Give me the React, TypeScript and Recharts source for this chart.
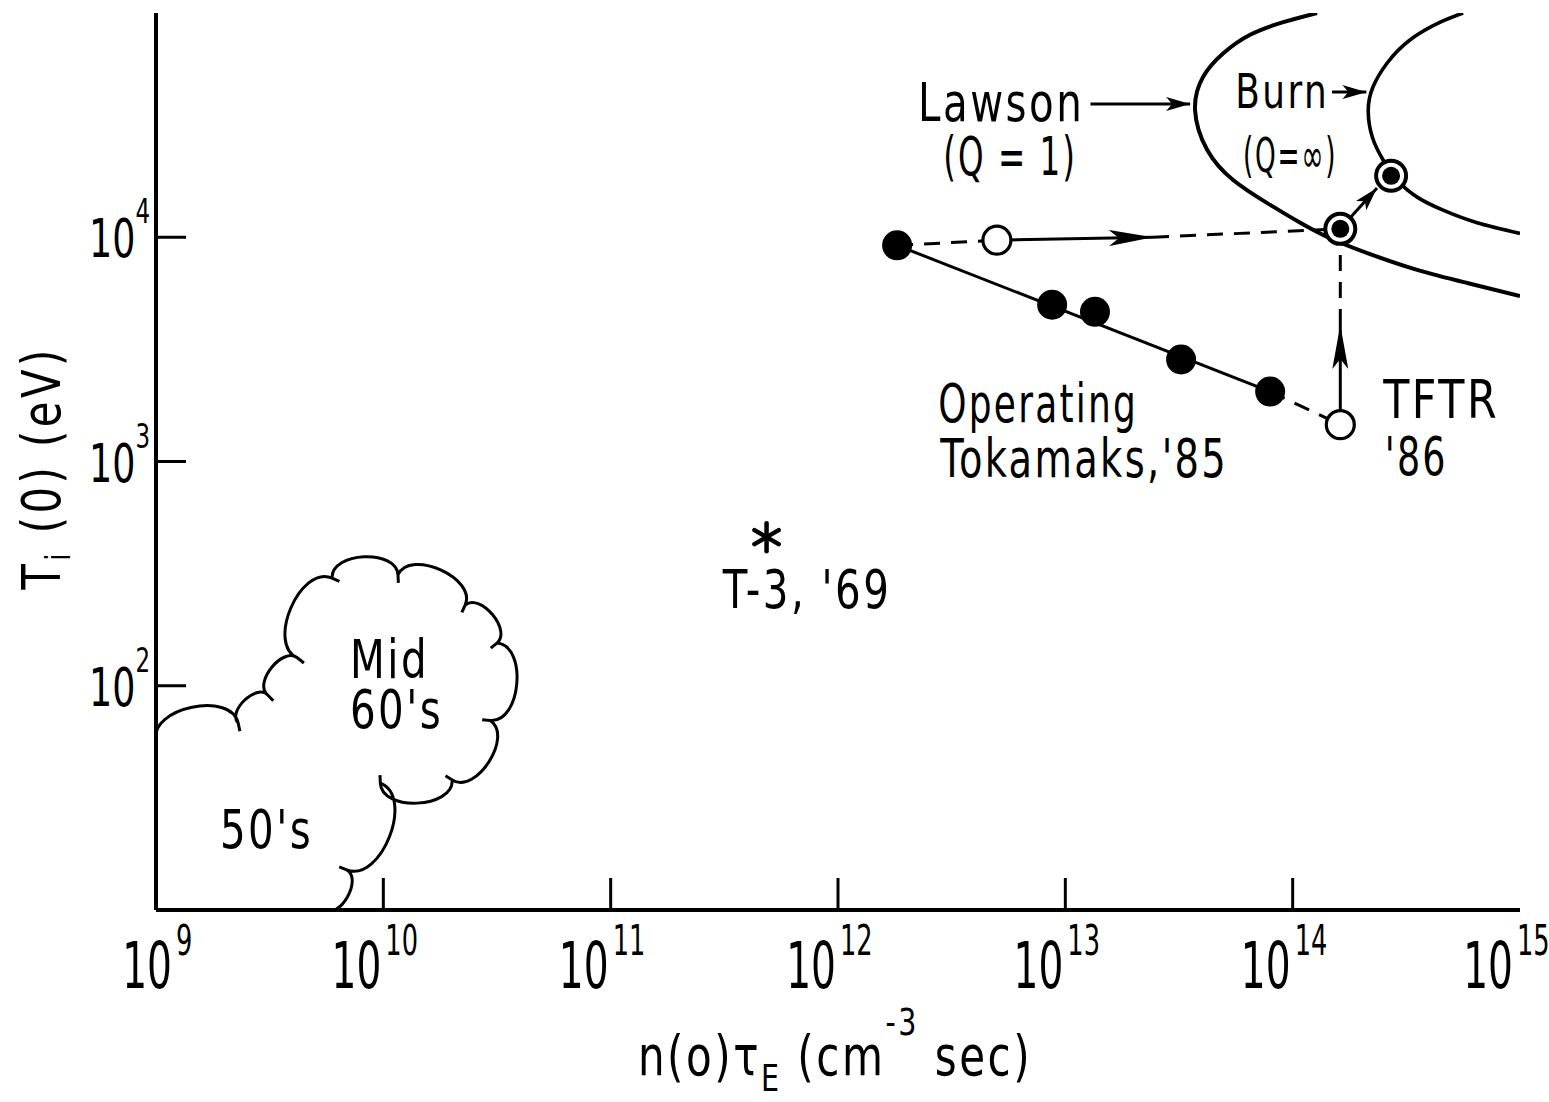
import React from 'react';
import { ComposedChart, Line, Scatter, XAxis, YAxis, ReferenceDot } from 'recharts';

const FONT = '"DejaVu Sans Condensed", "DejaVu Sans", sans-serif';

// decade ticks
const xTicks = [1e9, 1e10, 1e11, 1e12, 1e13, 1e14, 1e15];
const xInnerTicks = [1e10, 1e11, 1e12, 1e13, 1e14];
const yTicks = [1e2, 1e3, 1e4];

// operating tokamaks, 1985 (filled dots)
const tokamaks85 = [
  { x: 1.82e12, y: 9.2e3 },
  { x: 8.75e12, y: 5.0e3 },
  { x: 1.35e13, y: 4.65e3 },
  { x: 3.23e13, y: 2.85e3 },
  { x: 7.96e13, y: 2.05e3 },
];

// open circles: high-temperature shot and TFTR '86
const openPoints = [
  { x: 5.0e12, y: 9.7e3 },
  { x: 1.62e14, y: 1.46e3 },
];

// double circles on the Lawson and burn curves
const targets = [
  { x: 1.62e14, y: 1.09e4 },
  { x: 2.71e14, y: 1.88e4 },
];

const t3Point = [{ x: 4.85e11, y: 460 }];

// arrow tips along the upgrade paths
const hArrowTip = { x: 2.43e13, y: 1.0e4 };
const vArrowTip = { x: 1.62e14, y: 4.06e3 };
const dArrowTip = { x: 2.35e14, y: 1.66e4 };

// Lawson (Q = 1) boundary
const lawson = [
  { x: 1.28e14, y: 1.0e5 },
  { x: 9.1e13, y: 9.1e4 },
  { x: 6.5e13, y: 8.0e4 },
  { x: 4.94e13, y: 6.6e4 },
  { x: 4.04e13, y: 5.2e4 },
  { x: 3.72e13, y: 3.7e4 },
  { x: 4.21e13, y: 2.45e4 },
  { x: 5.47e13, y: 1.8e4 },
  { x: 7.73e13, y: 1.42e4 },
  { x: 1.08e14, y: 1.16e4 },
  { x: 1.46e14, y: 9.9e3 },
  { x: 2.13e14, y: 8.5e3 },
  { x: 3.53e14, y: 7.15e3 },
  { x: 5.86e14, y: 6.25e3 },
  { x: 1.0e15, y: 5.47e3 },
];

// ignition / burn (Q = infinity) boundary
const burn = [
  { x: 5.62e14, y: 1.0e5 },
  { x: 4.46e14, y: 9.1e4 },
  { x: 3.29e14, y: 7.6e4 },
  { x: 2.61e14, y: 6.0e4 },
  { x: 2.26e14, y: 4.7e4 },
  { x: 2.15e14, y: 3.7e4 },
  { x: 2.24e14, y: 2.8e4 },
  { x: 2.5e14, y: 2.21e4 },
  { x: 2.88e14, y: 1.8e4 },
  { x: 3.53e14, y: 1.51e4 },
  { x: 4.59e14, y: 1.32e4 },
  { x: 6.48e14, y: 1.16e4 },
  { x: 1.0e15, y: 1.04e4 },
];

// cusps of the 50's / mid-60's cloud outline
const cloud = [
  { x: 1.0e9, y: 57 },
  { x: 2.3e9, y: 68 },
  { x: 3.1e9, y: 91 },
  { x: 4.2e9, y: 133 },
  { x: 5.95e9, y: 302 },
  { x: 1.16e10, y: 312 },
  { x: 2.29e10, y: 229 },
  { x: 3.16e10, y: 155 },
  { x: 2.95e10, y: 70 },
  { x: 2.01e10, y: 38 },
  { x: 9.7e9, y: 36.8 },
  { x: 6.9e9, y: 15.1 },
  { x: 5.5e9, y: 10 },
];

// pointers from the curve names
const lawsonPointer = [
  { x: 1.29e13, y: 3.93e4 },
  { x: 3.54e13, y: 3.93e4 },
];
const burnPointer = [
  { x: 1.49e14, y: 4.44e4 },
  { x: 2.11e14, y: 4.44e4 },
];

const notes = [
  { x: 5.22e12, y: 3.3e4, text: 'Lawson', anchor: 'middle' },
  { x: 5.72e12, y: 1.9e4, text: '(Q = 1)', anchor: 'middle' },
  { x: 2.76e12, y: 1.5e3, text: 'Operating', anchor: 'start' },
  { x: 2.82e12, y: 853, text: "Tokamaks,'85", anchor: 'start' },
  { x: 2.5e14, y: 1.56e3, text: 'TFTR', anchor: 'start' },
  { x: 2.54e14, y: 871, text: "'86", anchor: 'start' },
  { x: 7.31e11, y: 222, text: "T-3, '69", anchor: 'middle' },
  { x: 7.13e9, y: 108, text: 'Mid', anchor: 'start' },
  { x: 7.13e9, y: 64.8, text: "60's", anchor: 'start' },
  { x: 1.91e9, y: 18.9, text: "50's", anchor: 'start' },
];

const smallNotes = [
  { x: 9.0e13, y: 3.77e4, text: 'Burn', anchor: 'middle' },
  { x: 9.75e13, y: 1.95e4, text: '(Q=∞)', anchor: 'middle' },
];

// hand lettering is narrower than the installed fonts
const squeeze: Record<string, number> = {
  '(Q = 1)': 0.67,
  Operating: 0.74,
  "Tokamaks,'85": 0.79,
  TFTR: 0.88,
  "'86": 0.75,
  '(Q=∞)': 0.61,
};

// scalloped outline: every pair of cusps gets a rounded lobe bulging outward,
// with a short inward hook where two lobes meet
const cloudCurve = (context: any) => {
  let pts: number[][] = [];
  return {
    areaStart() {},
    areaEnd() {},
    lineStart() {
      pts = [];
    },
    point(x: number, y: number) {
      pts.push([+x, +y]);
    },
    lineEnd() {
      if (!pts.length) return;
      context.moveTo(pts[0][0], pts[0][1]);
      for (let i = 1; i < pts.length; i++) {
        const [ax, ay] = pts[i - 1];
        const [bx, by] = pts[i];
        const dx = bx - ax;
        const dy = by - ay;
        const len = Math.hypot(dx, dy) || 1;
        const nx = dy / len;
        const ny = -dx / len;
        const k = 0.4 * len;
        context.bezierCurveTo(ax + nx * k, ay + ny * k, bx + nx * k, by + ny * k, bx, by);
        if (i < pts.length - 1) {
          context.lineTo(bx - nx * 8, by - ny * 8);
          context.moveTo(bx, by);
        }
      }
    },
  };
};

const exponent = (v: number) => Math.round(Math.log10(v));

const BottomTick = (props: any) => {
  const { x, y, payload } = props;
  const e = exponent(payload.value);
  // corner labels are nudged inward, the rest sit just left of their tick
  const shift = e === 9 ? 18 : e === 15 ? -5 : 0;
  return (
    <g fontFamily={FONT} fill="#000">
      {e > 9 && e < 15 && <line x1={x} x2={x} y1={y} y2={y - 32} stroke="#000" strokeWidth={3} />}
      <text transform={`translate(${x + shift - 2},${y + 78}) scale(0.68,1)`} textAnchor="end" fontSize={64}>
        10
      </text>
      <text transform={`translate(${x + shift + 2},${y + 45}) scale(0.68,1)`} textAnchor="start" fontSize={42}>
        {e}
      </text>
    </g>
  );
};

const TopTick = (props: any) => {
  const { x, y } = props;
  return <line x1={x} x2={x} y1={y} y2={y + 35} stroke="#000" strokeWidth={3} />;
};

const LeftTick = (props: any) => {
  const { x, y, payload } = props;
  const e = exponent(payload.value);
  return (
    <g>
      <line x1={x} x2={x + 30} y1={y} y2={y} stroke="#000" strokeWidth={3} />
      <text transform={`translate(${x - 6},${y + 20}) scale(0.75,1)`} textAnchor="end" fontFamily={FONT} fontSize={54} fill="#000">
        <tspan>10</tspan>
        <tspan dy={-34} fontSize={34}>{e}</tspan>
      </text>
    </g>
  );
};

const RightTick = (props: any) => {
  const { x, y } = props;
  return <line x1={x} x2={x - 30} y1={y} y2={y} stroke="#000" strokeWidth={3} />;
};

const XTitle = (props: any) => {
  const { viewBox } = props;
  const cx = viewBox.x + viewBox.width / 2;
  return (
    <text
      transform={`translate(${cx - 3},${viewBox.y + 165}) scale(0.835,1)`}
      textAnchor="middle"
      fontFamily={FONT}
      fontSize={56}
      letterSpacing={3}
      fill="#000"
    >
      <tspan>n(o)τ</tspan>
      <tspan dy={16} fontSize={38}>E</tspan>
      <tspan dy={-16}> (cm</tspan>
      <tspan dy={-40} fontSize={38}>-3</tspan>
      <tspan dy={40}> sec)</tspan>
    </text>
  );
};

const YTitle = () => (
  <text
    transform="translate(60,468) rotate(-90) scale(0.86,1)"
    textAnchor="middle"
    fontFamily={FONT}
    fontSize={54}
    letterSpacing={4}
    fill="#000"
  >
    <tspan>T</tspan>
    <tspan dy={10} fontSize={34}>i</tspan>
    <tspan dy={-10}> (0) (eV)</tspan>
  </text>
);

const FilledDot = (p: any) => <circle cx={p.cx} cy={p.cy} r={15} fill="#000" />;
const OpenDot = (p: any) => <circle cx={p.cx} cy={p.cy} r={14} fill="#fff" stroke="#000" strokeWidth={3.2} />;
const TargetDot = (p: any) => (
  <g>
    <circle cx={p.cx} cy={p.cy} r={15} fill="#fff" stroke="#000" strokeWidth={4} />
    <circle cx={p.cx} cy={p.cy} r={9} fill="#000" />
  </g>
);
const AsteriskDot = (p: any) => (
  <g stroke="#000" strokeWidth={4.5} strokeLinecap="round">
    {[90, 30, 150].map((a) => {
      const r = 14;
      const dx = r * Math.cos((a * Math.PI) / 180);
      const dy = r * Math.sin((a * Math.PI) / 180);
      return <line key={a} x1={p.cx - dx} y1={p.cy - dy} x2={p.cx + dx} y2={p.cy + dy} />;
    })}
  </g>
);

const noteShape = (text: string, anchor: string, size: number) => (p: any) => (
  <text
    transform={`translate(${p.cx},${p.cy}) scale(${squeeze[text] ?? 0.83},1)`}
    textAnchor={anchor}
    fontFamily={FONT}
    fontSize={size}
    letterSpacing={3}
    fill="#000"
  >
    {text}
  </text>
);

const DASH = '16 11';
const LW = 3;

export default function App() {
  return (
    <div style={{ position: 'absolute', left: 0, top: 0, background: '#fff' }}>
      <ComposedChart width={1549} height={1102} margin={{ top: 13, right: 29, bottom: 0, left: 0 }}>
        <defs>
          <marker id="headLong" viewBox="0 0 44 16" refX="44" refY="8" markerWidth="44" markerHeight="16" markerUnits="userSpaceOnUse" orient="auto">
            <path d="M0,0 L44,8 L0,16 L10,8 Z" fill="#000" />
          </marker>
          <marker id="headShort" viewBox="0 0 24 14" refX="24" refY="7" markerWidth="24" markerHeight="14" markerUnits="userSpaceOnUse" orient="auto">
            <path d="M0,0 L24,7 L0,14 L6,7 Z" fill="#000" />
          </marker>
        </defs>
        <XAxis
          dataKey="x"
          type="number"
          scale="log"
          domain={[1e9, 1e15]}
          allowDataOverflow
          ticks={xTicks}
          interval={0}
          height={192}
          tickSize={0}
          tickMargin={0}
          tickLine={false}
          tick={<BottomTick />}
          axisLine={{ stroke: '#000', strokeWidth: 4 }}
          label={<XTitle />}
        />
        <XAxis
          xAxisId="top"
          orientation="top"
          dataKey="x"
          type="number"
          scale="log"
          domain={[1e9, 1e15]}
          allowDataOverflow
          ticks={xInnerTicks}
          interval={0}
          height={0}
          tickSize={0}
          tickMargin={0}
          tickLine={false}
          tick={<TopTick />}
          axisLine={{ stroke: '#000', strokeWidth: 4 }}
        />
        <YAxis
          dataKey="y"
          type="number"
          scale="log"
          domain={[10, 1e5]}
          allowDataOverflow
          ticks={yTicks}
          interval={0}
          width={156}
          tickSize={0}
          tickMargin={0}
          tickLine={false}
          tick={<LeftTick />}
          axisLine={{ stroke: '#000', strokeWidth: 4 }}
          label={<YTitle />}
        />
        <YAxis
          yAxisId="right"
          orientation="right"
          dataKey="y"
          type="number"
          scale="log"
          domain={[10, 1e5]}
          allowDataOverflow
          ticks={yTicks}
          interval={0}
          width={0}
          tickSize={0}
          tickMargin={0}
          tickLine={false}
          tick={<RightTick />}
          axisLine={{ stroke: '#000', strokeWidth: 4 }}
        />

        <Line data={lawson} dataKey="y" type="natural" stroke="#000" strokeWidth={4} dot={false} activeDot={false} isAnimationActive={false} />
        <Line data={burn} dataKey="y" type="natural" stroke="#000" strokeWidth={3.6} dot={false} activeDot={false} isAnimationActive={false} />
        <Line data={cloud} dataKey="y" type={cloudCurve as any} stroke="#000" strokeWidth={3} dot={false} activeDot={false} isAnimationActive={false} />

        {/* 1985 trend and its extension to TFTR */}
        <Line data={[tokamaks85[0], tokamaks85[4]]} dataKey="y" stroke="#000" strokeWidth={LW} dot={false} activeDot={false} isAnimationActive={false} />
        <Line data={[tokamaks85[4], openPoints[1]]} dataKey="y" stroke="#000" strokeWidth={LW} strokeDasharray={DASH} dot={false} activeDot={false} isAnimationActive={false} />

        {/* temperature path toward Lawson */}
        <Line data={[tokamaks85[0], openPoints[0]]} dataKey="y" stroke="#000" strokeWidth={LW} strokeDasharray={DASH} dot={false} activeDot={false} isAnimationActive={false} />
        <Line data={[openPoints[0], hArrowTip]} dataKey="y" stroke="#000" strokeWidth={LW} markerEnd="url(#headLong)" dot={false} activeDot={false} isAnimationActive={false} />
        <Line data={[hArrowTip, targets[0]]} dataKey="y" stroke="#000" strokeWidth={LW} strokeDasharray={DASH} dot={false} activeDot={false} isAnimationActive={false} />

        {/* TFTR heating path */}
        <Line data={[openPoints[1], vArrowTip]} dataKey="y" stroke="#000" strokeWidth={LW} markerEnd="url(#headLong)" dot={false} activeDot={false} isAnimationActive={false} />
        <Line data={[vArrowTip, targets[0]]} dataKey="y" stroke="#000" strokeWidth={LW} strokeDasharray={DASH} dot={false} activeDot={false} isAnimationActive={false} />
        <Line data={[targets[0], dArrowTip]} dataKey="y" stroke="#000" strokeWidth={LW} markerEnd="url(#headShort)" dot={false} activeDot={false} isAnimationActive={false} />

        <Line data={lawsonPointer} dataKey="y" stroke="#000" strokeWidth={LW} markerEnd="url(#headShort)" dot={false} activeDot={false} isAnimationActive={false} />
        <Line data={burnPointer} dataKey="y" stroke="#000" strokeWidth={LW} markerEnd="url(#headShort)" dot={false} activeDot={false} isAnimationActive={false} />

        <Scatter data={tokamaks85} shape={FilledDot} isAnimationActive={false} />
        <Scatter data={openPoints} shape={OpenDot} isAnimationActive={false} />
        <Scatter data={targets} shape={TargetDot} isAnimationActive={false} />
        <Scatter data={t3Point} shape={AsteriskDot} isAnimationActive={false} />

        {notes.map((n) => (
          <ReferenceDot key={n.text} x={n.x} y={n.y} r={0} ifOverflow="visible" shape={noteShape(n.text, n.anchor, 54)} />
        ))}
        {smallNotes.map((n) => (
          <ReferenceDot key={n.text} x={n.x} y={n.y} r={0} ifOverflow="visible" shape={noteShape(n.text, n.anchor, 48)} />
        ))}
      </ComposedChart>
    </div>
  );
}
